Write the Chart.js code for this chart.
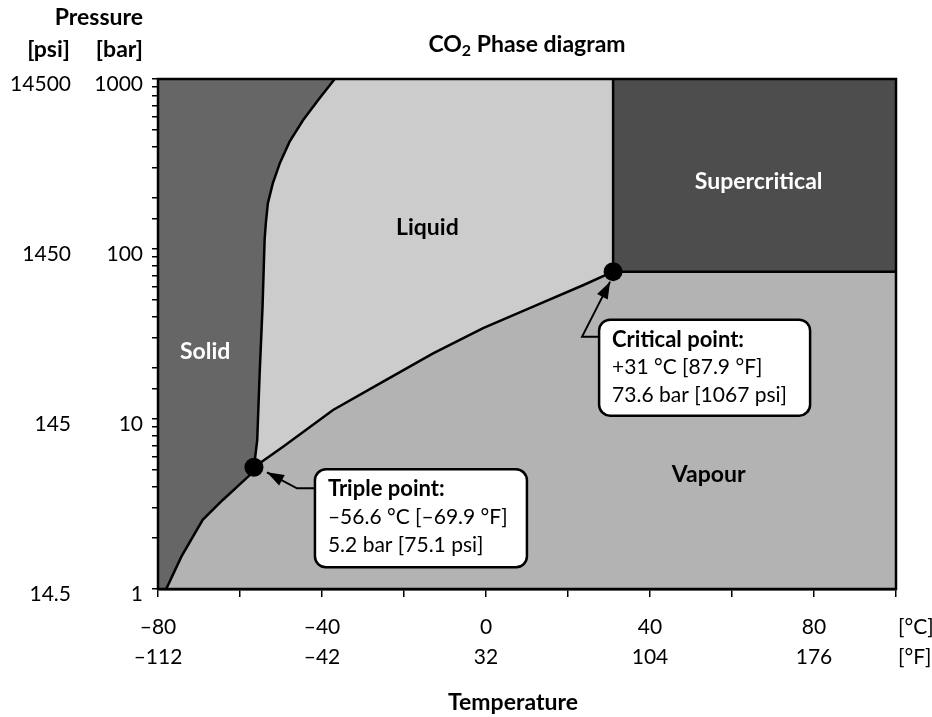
<!DOCTYPE html>
<html lang="en">
<head>
<meta charset="utf-8">
<title>CO2 Phase diagram</title>
<script src="https://cdn.jsdelivr.net/npm/chart.js"></script>
<style>
  html, body { margin: 0; padding: 0; background: #fff; }
</style>
</head>
<body>
<canvas id="phaseChart" width="932" height="717"></canvas>
<script>
// values: temperature in °C, pressure in bar
// sublimation + melting boundary (solid region edge), bottom to top
const solidCurveT = [-78.0, -74.3, -69.1, -64.2, -57.6, -56.6, -55.8, -55.2, -54.5, -54.0, -53.7, -53.2, -52.0, -50.3, -47.9, -44.6, -40.6, -36.9];
const solidCurveP = [1.0, 1.55, 2.55, 3.34, 4.68, 5.2, 7.5, 18.7, 45.8, 113, 142, 186, 243, 319, 428, 574, 770, 1000];
// boiling curve, triple point to critical point
const boilCurveT = [-56.6, -49.5, -37.3, -25.1, -12.9, -0.7, 11.5, 23.8, 31];
const boilCurveP = [5.2, 6.87, 11.3, 16.6, 24.3, 34.2, 45.8, 61.4, 73.6];

const tripleT = -56.6, tripleP = 5.2;
const criticalT = 31, criticalP = 73.6;

const tempMin = -80, tempMax = 100;
const pressMin = 1, pressMax = 1000;

const celsiusTicks = [-80, -40, 0, 40, 80];
const celsiusLabels = ['–80', '–40', '0', '40', '80'];
const fahrenheitLabels = ['–112', '–42', '32', '104', '176'];
const barTicks = [1, 10, 100, 1000];
const barLabels = ['1', '10', '100', '1000'];
const psiLabels = ['14.5', '145', '1450', '14500'];

const regionNames = ['Solid', 'Liquid', 'Supercritical', 'Vapour'];

const FONT = 'Lato';
Chart.defaults.font.family = FONT;
Chart.defaults.color = '#000';

const pts = (ts, ps) => ts.map((t, i) => ({x: t, y: ps[i]}));
const solidCurve = pts(solidCurveT, solidCurveP);
const boilCurve = pts(boilCurveT, boilCurveP);
const tripleIdx = solidCurveT.indexOf(tripleT);
const sublimation = solidCurve.slice(0, tripleIdx + 1);
const melting = solidCurve.slice(tripleIdx);

// closed shapes for the four phases
const solidShape = [{x: tempMin, y: pressMin}, ...solidCurve, {x: tempMin, y: pressMax}];
const liquidShape = [...melting, {x: criticalT, y: pressMax}, {x: criticalT, y: criticalP}, ...boilCurve.slice().reverse()];
const vapourShape = [...sublimation, ...boilCurve.slice(1), {x: tempMax, y: criticalP}, {x: tempMax, y: pressMin}];
const superShape = [{x: criticalT, y: criticalP}, {x: criticalT, y: pressMax}, {x: tempMax, y: pressMax}, {x: tempMax, y: criticalP}];
const superEdge = [{x: criticalT, y: pressMax}, {x: criticalT, y: criticalP}, {x: tempMax, y: criticalP}];

function region(label, data, color) {
  return {label, data, backgroundColor: color, borderColor: 'transparent', borderWidth: 0,
          pointRadius: 0, fill: 'shape', tension: 0, order: 10};
}
function curve(label, data) {
  return {label, data, borderColor: '#000', borderWidth: 2.5, pointRadius: 0,
          fill: false, tension: 0, order: 5};
}

// labels and callouts drawn on top of the plot
const regionText = [
  {text: regionNames[0], t: -68.5, p: 25, color: '#fff'},
  {text: regionNames[1], t: -14.3, p: 133, color: '#000'},
  {text: regionNames[2], t: 66.5, p: 248, color: '#fff'},
  {text: regionNames[3], t: 54.3, p: 4.7, color: '#000'}
];
const callouts = [
  {t: tripleT, p: tripleP, box: {dx: 61, dy: 2, w: 212, h: 98}, knee: {dx: 43, dy: 21}, tip: {dx: 13, dy: 5},
   lines: ['Triple point:', '–56.6 °C [–69.9 °F]', '5.2 bar [75.1 psi]']},
  {t: criticalT, p: criticalP, box: {dx: -14, dy: 48, w: 211, h: 96}, knee: {dx: -31, dy: 65}, tip: {dx: -3, dy: 10},
   lines: ['Critical point:', '+31 °C [87.9 °F]', '73.6 bar [1067 psi]']}
];

const overlay = {
  id: 'overlay',
  afterDatasetsDraw(chart) {
    const {ctx, chartArea: a} = chart;
    const xs = chart.scales.x, ys = chart.scales.y;
    ctx.save();
    ctx.strokeStyle = '#000';
    ctx.lineWidth = 2.5;
    ctx.strokeRect(a.left, a.top, a.right - a.left, a.bottom - a.top);

    ctx.textBaseline = 'middle';
    ctx.textAlign = 'center';
    ctx.font = 'bold 23px ' + FONT;
    regionText.forEach(r => {
      ctx.fillStyle = r.color;
      ctx.fillText(r.text, xs.getPixelForValue(r.t), ys.getPixelForValue(r.p));
    });

    callouts.forEach(c => {
      const px = xs.getPixelForValue(c.t), py = ys.getPixelForValue(c.p);
      const bx = px + c.box.dx, by = py + c.box.dy;
      const kx = px + c.knee.dx, ky = py + c.knee.dy;
      const tx = px + c.tip.dx, ty = py + c.tip.dy;
      ctx.strokeStyle = '#000';
      ctx.fillStyle = '#000';
      ctx.lineWidth = 2;
      ctx.beginPath();
      ctx.moveTo(bx, ky);
      ctx.lineTo(kx, ky);
      ctx.lineTo(tx, ty);
      ctx.stroke();
      // arrow head
      const ang = Math.atan2(ty - ky, tx - kx);
      const len = 17, half = 6;
      ctx.beginPath();
      ctx.moveTo(tx, ty);
      ctx.lineTo(tx - len * Math.cos(ang) + half * Math.sin(ang), ty - len * Math.sin(ang) - half * Math.cos(ang));
      ctx.lineTo(tx - len * Math.cos(ang) - half * Math.sin(ang), ty - len * Math.sin(ang) + half * Math.cos(ang));
      ctx.closePath();
      ctx.fill();
      // box
      ctx.beginPath();
      ctx.roundRect(bx, by, c.box.w, c.box.h, 11);
      ctx.fillStyle = '#fff';
      ctx.fill();
      ctx.lineWidth = 2.5;
      ctx.stroke();
      ctx.fillStyle = '#000';
      ctx.textAlign = 'left';
      c.lines.forEach((s, i) => {
        ctx.font = (i === 0 ? 'bold 22px ' : '21px ') + FONT;
        ctx.fillText(s, bx + 13, by + 20 + i * 28);
      });
    });
    ctx.restore();
  },
  afterDraw(chart) {
    const {ctx, chartArea: a} = chart;
    const ys = chart.scales.y;
    ctx.save();
    ctx.fillStyle = '#000';
    ctx.textBaseline = 'middle';

    // title with subscript
    const cx = (a.left + a.right) / 2, cy = 45;
    ctx.font = 'bold 23px ' + FONT;
    const w1 = ctx.measureText('CO').width, w3 = ctx.measureText(' Phase diagram').width;
    ctx.font = 'bold 16px ' + FONT;
    const w2 = ctx.measureText('2').width;
    let sx = cx - (w1 + w2 + w3) / 2;
    ctx.textAlign = 'left';
    ctx.font = 'bold 23px ' + FONT;
    ctx.fillText('CO', sx, cy);
    ctx.font = 'bold 16px ' + FONT;
    ctx.fillText('2', sx + w1, cy + 6);
    ctx.font = 'bold 23px ' + FONT;
    ctx.fillText(' Phase diagram', sx + w1 + w2, cy);

    // pressure axis headings
    ctx.textAlign = 'right';
    ctx.fillText('Pressure', 143, 18);
    ctx.fillText('[psi]', 70, 50);
    ctx.fillText('[bar]', 143, 50);

    // bar and psi labels at the log scale majors
    ctx.font = '21px ' + FONT;
    barTicks.forEach((v, i) => {
      const py = ys.getPixelForValue(v) + 5;
      ctx.fillText(barLabels[i], a.left - 15, py);
      ctx.fillText(psiLabels[i], 71, py);
    });

    // temperature units
    ctx.textAlign = 'left';
    ctx.fillText('[°C]', a.right + 2, 627);
    ctx.fillText('[°F]', a.right + 2, 657);

    ctx.textAlign = 'center';
    ctx.font = 'bold 23px ' + FONT;
    ctx.fillText('Temperature', 513, 703);
    ctx.restore();
  }
};

new Chart(document.getElementById('phaseChart'), {
  type: 'line',
  data: {
    datasets: [
      region('Solid', solidShape, '#666666'),
      region('Liquid', liquidShape, '#cccccc'),
      region('Vapour', vapourShape, '#b3b3b3'),
      region('Supercritical', superShape, '#4d4d4d'),
      curve('Solid boundary', solidCurve),
      curve('Boiling curve', boilCurve),
      curve('Supercritical edge', superEdge),
      {label: 'Points', data: [{x: tripleT, y: tripleP}, {x: criticalT, y: criticalP}],
       showLine: false, pointRadius: 9.5, pointBackgroundColor: '#000', pointBorderWidth: 0, order: 1}
    ]
  },
  options: {
    responsive: false,
    animation: false,
    events: [],
    layout: {padding: {left: 0, right: 36, top: 79, bottom: 0}},
    plugins: {legend: {display: false}, tooltip: {enabled: false}, title: {display: false}},
    scales: {
      x: {
        type: 'linear', min: tempMin, max: tempMax,
        afterFit: s => { s.height = 128; },
        grid: {drawOnChartArea: false, tickLength: 8, color: '#000', lineWidth: 1.5},
        border: {display: true, color: '#000', width: 2.5},
        ticks: {
          stepSize: 20, autoSkip: false, maxRotation: 0, padding: 15,
          font: {size: 21, lineHeight: 1.43},
          callback: v => {
            const i = celsiusTicks.indexOf(v);
            return i >= 0 ? [celsiusLabels[i], fahrenheitLabels[i]] : '';
          }
        }
      },
      y: {
        type: 'logarithmic', min: pressMin, max: pressMax,
        afterFit: s => { s.width = 158; },
        grid: {drawOnChartArea: false, tickLength: 6, color: '#000', lineWidth: 1.5},
        border: {display: true, color: '#000', width: 2.5},
        // labels for the majors are drawn by the overlay, a few px below the tick like the original
        ticks: {display: false, autoSkip: false}
      }
    }
  },
  plugins: [overlay]
});
</script>
</body>
</html>
